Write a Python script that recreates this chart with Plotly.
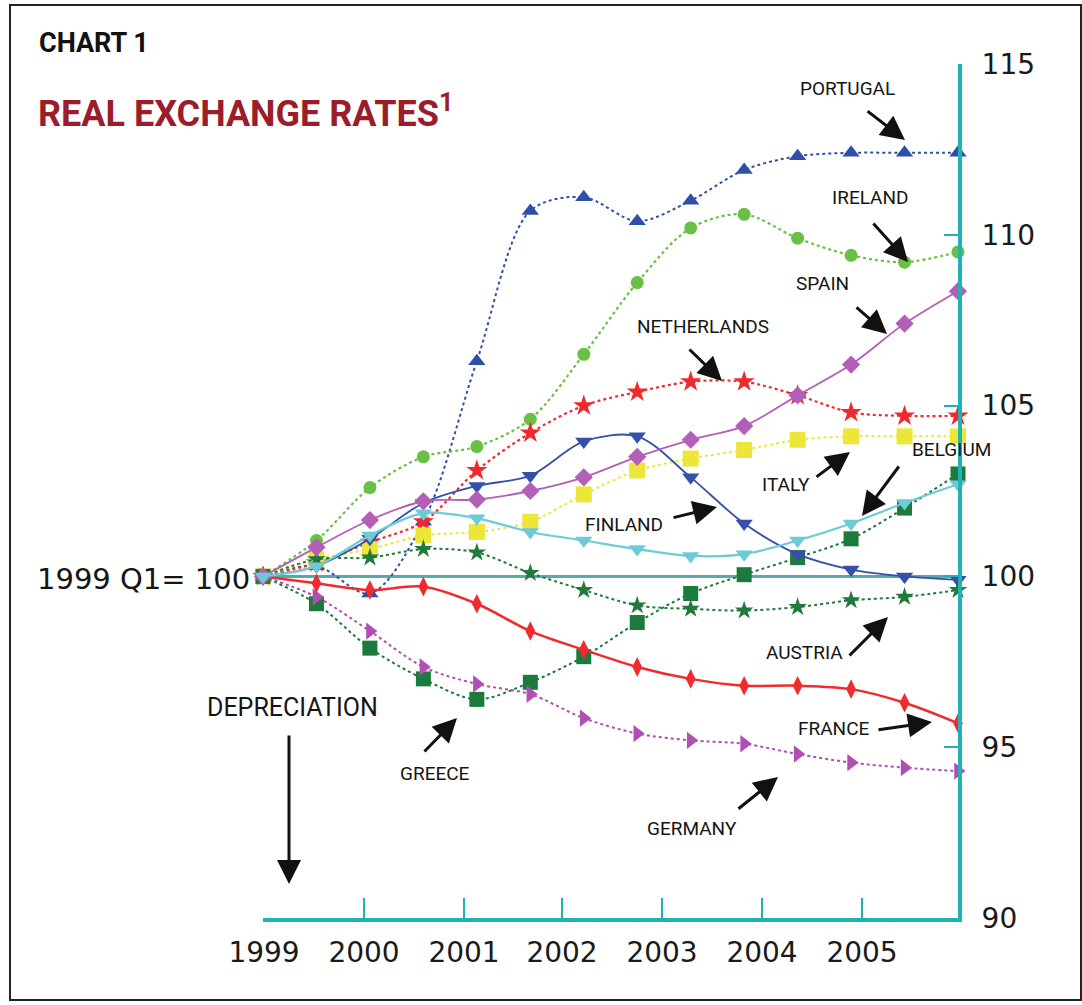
import plotly.graph_objects as go

# ---- data (semi-annual observations, 1999 Q1 = 100) ----
periods = ["1999H1", "1999H2", "2000H1", "2000H2", "2001H1", "2001H2", "2002H1",
           "2002H2", "2003H1", "2003H2", "2004H1", "2004H2", "2005H1", "2005H2"]
portugal = [100, 100.3, 99.5, 101.6, 106.3, 110.7, 111.1, 110.4, 111.0, 111.9, 112.3, 112.4, 112.4, 112.4]
ireland = [100, 101.05, 102.6, 103.5, 103.8, 104.6, 106.5, 108.6, 110.2, 110.6, 109.9, 109.4, 109.2, 109.5]
spain = [100, 100.85, 101.65, 102.2, 102.25, 102.5, 102.9, 103.5, 104.0, 104.4, 105.3, 106.2, 107.4, 108.35]
netherlands = [100, 100.4, 101.0, 101.6, 103.1, 104.2, 105.0, 105.4, 105.7, 105.7, 105.3, 104.8, 104.7, 104.7]
italy = [100, 100.5, 100.8, 101.2, 101.3, 101.6, 102.4, 103.1, 103.45, 103.7, 104.0, 104.1, 104.1, 104.1]
belgium = [100, 100.3, 101.2, 101.85, 101.7, 101.3, 101.05, 100.8, 100.6, 100.65, 101.05, 101.55, 102.15, 102.7]
finland = [100, 100.3, 101.1, 102.15, 102.65, 102.95, 103.95, 104.1, 102.9, 101.55, 100.65, 100.2, 100.0, 99.9]
austria = [100, 100.5, 100.55, 100.8, 100.7, 100.1, 99.6, 99.15, 99.05, 99.0, 99.1, 99.3, 99.4, 99.6]
greece = [100, 99.2, 97.9, 97.0, 96.4, 96.9, 97.65, 98.65, 99.5, 100.05, 100.55, 101.1, 102.0, 103.0]
france = [100, 99.8, 99.6, 99.7, 99.2, 98.4, 97.85, 97.35, 97.0, 96.8, 96.8, 96.7, 96.3, 95.7]
germany = [100, 99.4, 98.4, 97.35, 96.85, 96.55, 95.85, 95.4, 95.2, 95.1, 94.8, 94.55, 94.4, 94.3]

year_labels = ["1999", "2000", "2001", "2002", "2003", "2004", "2005"]
y_ticks = [90, 95, 100, 105, 110, 115]

# ---- geometry helpers (pixel -> paper coords) ----
PL, PR, PT, PB = 263, 958, 64, 918
W, H = 1082, 1005
X_STEP = (PR - PL) / 13.0


def px2x(px):
    return (px - PL) / X_STEP


def ppx(px):
    return (px - PL) / (PR - PL)


def ppy(py):
    return (PB - py) / (PB - PT)


year_tick_px = [264, 364, 464, 562, 662, 762, 862]
xpos = list(range(len(periods)))

series = [
    ("Portugal", portugal, "#2e4fa8", "triangle-up", "dot", 15, 2),
    ("Ireland", ireland, "#6abf45", "circle", "dot", 13, 2.2),
    ("Netherlands", netherlands, "#ee2a2e", "star", "dot", 16, 2.2),
    ("Italy", italy, "#ece638", "square", "dot", 16, 2),
    ("Austria", austria, "#1f7a3c", "star", "dot", 14, 2),
    ("Greece", greece, "#1d7a3d", "square", "dot", 15, 2),
    ("Germany", germany, "#b04fb2", "triangle-right", "dot", 15, 2),
    ("France", france, "#ef2b2e", "diamond-tall", "solid", 14, 2.5),
    ("Finland", finland, "#3450a8", "triangle-down", "solid", 15, 1.8),
    ("Spain", spain, "#b35fb8", "diamond", "solid", 14, 1.8),
    ("Belgium", belgium, "#6dcbd6", "triangle-down", "solid", 15, 2.2),
]

fig = go.Figure()
for name, vals, col, sym, dash, msize, lw in series:
    fig.add_trace(go.Scatter(
        x=xpos, y=vals, name=name, mode="lines+markers",
        line=dict(color=col, width=lw, dash=dash, shape="spline", smoothing=0.9),
        marker=dict(symbol=sym, size=msize, color=col, line=dict(width=0)),
        cliponaxis=False, showlegend=False,
    ))

teal = "#1fb3b6"
shapes = [
    dict(type="line", xref="paper", yref="y", x0=0, x1=1, y0=100, y1=100,
         line=dict(color="#5aa9aa", width=3), layer="below"),
    dict(type="rect", xref="paper", yref="paper", x0=ppx(10), x1=ppx(1081),
         y0=ppy(1000), y1=ppy(5), line=dict(color="#222", width=2)),
]

ann = []
LBL_FONT = "Roboto, Open Sans, sans-serif"


def label(text, cx, cy, size=19, anchor="center", family=LBL_FONT):
    ann.append(dict(text=text, x=ppx(cx), y=ppy(cy), xref="paper", yref="paper",
                    showarrow=False, font=dict(family=family, size=size, color="#151515"),
                    xanchor=anchor, yanchor="middle"))


def arrow(tx, ty, hx, hy):
    ann.append(dict(text="", x=ppx(hx), y=ppy(hy), xref="paper", yref="paper",
                    ax=tx - hx, ay=ty - hy, axref="pixel", ayref="pixel",
                    showarrow=True, arrowhead=2, arrowsize=1.6, arrowwidth=3,
                    arrowcolor="#111"))


label("PORTUGAL", 847, 88)
arrow(866, 110, 905, 140)
label("IRELAND", 870, 198)
arrow(872, 222, 908, 262)
label("SPAIN", 822, 283)
arrow(855, 306, 887, 334)
label("NETHERLANDS", 703, 326)
arrow(688, 348, 722, 381)
label("ITALY", 786, 484)
arrow(815, 478, 850, 452)
label("BELGIUM", 951, 450)
arrow(900, 465, 862, 516)
label("FINLAND", 624, 524)
arrow(672, 518, 717, 507)
label("AUSTRIA", 804, 652)
arrow(848, 657, 888, 617)
label("FRANCE", 834, 728)
arrow(877, 730, 932, 722)
label("GERMANY", 692, 828)
arrow(737, 810, 778, 777)
label("GREECE", 435, 773)
arrow(423, 753, 457, 718)
label("DEPRECIATION", 292, 707, size=25)
arrow(289, 734, 289, 884)
label("1999 Q1= 100", 252, 579, size=29, anchor="right", family="DejaVu Sans, sans-serif")

# titles
ann.append(dict(text="<b>CHART 1</b>", xref="paper", yref="paper", x=ppx(37), y=ppy(43),
                xanchor="left", yanchor="middle", showarrow=False,
                font=dict(family="Roboto, sans-serif", size=27, color="#111")))
ann.append(dict(text="<b>REAL EXCHANGE RATES</b><sup><b>1</b></sup>", xref="paper", yref="paper",
                x=ppx(36), y=ppy(112), xanchor="left", yanchor="middle", showarrow=False,
                font=dict(family="Roboto, sans-serif", size=36, color="#9b1d2c")))

fig.update_layout(
    width=W, height=H,
    margin=dict(l=PL, r=W - PR, t=PT, b=H - PB),
    paper_bgcolor="white", plot_bgcolor="white",
    shapes=shapes, annotations=ann,
    xaxis=dict(range=[0, 13], showgrid=False, zeroline=False,
               showline=True, linecolor=teal, linewidth=4,
               ticks="inside", ticklen=20, tickwidth=2, tickcolor=teal,
               tickvals=[px2x(p) for p in year_tick_px], ticktext=year_labels,
               tickfont=dict(family="DejaVu Sans, sans-serif", size=28, color="#1a1a1a"),
               ticklabelstandoff=6, fixedrange=True),
    yaxis=dict(range=[90, 115], side="right", showgrid=False, zeroline=False,
               showline=True, linecolor=teal, linewidth=4,
               ticks="inside", ticklen=14, tickwidth=2, tickcolor=teal,
               tickvals=y_ticks, ticktext=[str(v) for v in y_ticks],
               tickfont=dict(family="DejaVu Sans, sans-serif", size=28, color="#1a1a1a"),
               ticklabelstandoff=14, fixedrange=True),
)

fig.write_html("out.html", config={"displayModeBar": False},
               post_script="document.body.style.margin='0px';")
